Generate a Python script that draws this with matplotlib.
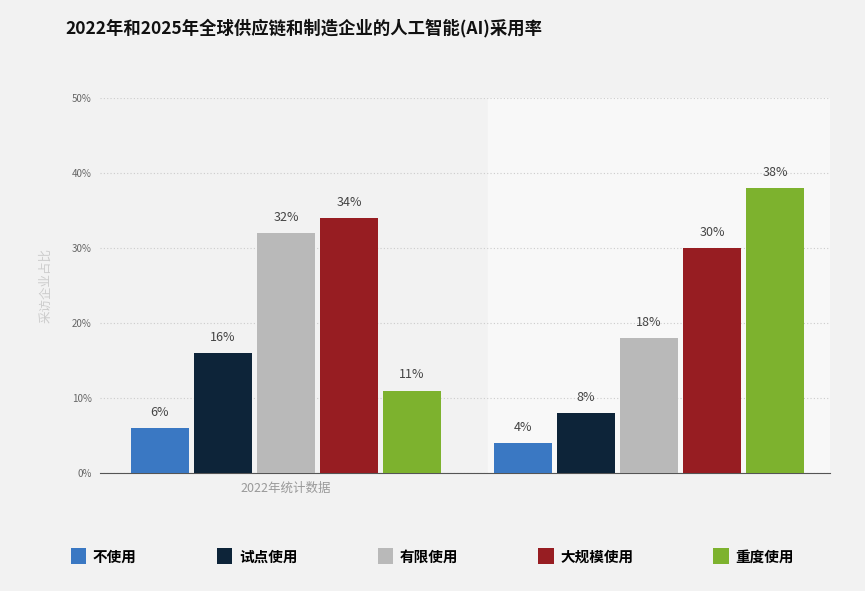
import matplotlib.pyplot as plt
import numpy as np

plt.rcParams['font.family'] = ['Noto Sans CJK SC']

groups = ['2022年统计数据', '']
series = ['不使用', '试点使用', '有限使用', '大规模使用', '重度使用']
values = [[6, 16, 32, 34, 11], [4, 8, 18, 30, 38]]
colors = ['#3a78c3', '#0d2439', '#b9b9b9', '#971d22', '#7db22e']
yticks = [0, 10, 20, 30, 40, 50]

fig = plt.figure(figsize=(8.65, 5.91), dpi=100, facecolor='#f2f2f2')
ax = fig.add_axes([100/865, 1-473/591, 730/865, 375/591])
ax.set_facecolor('#f2f2f2')
ax.axvspan(5.2, 10.7, color='#f8f8f8', zorder=0)

step = 5.76
for gi, vals in enumerate(values):
    for j, v in enumerate(vals):
        x = gi*step + j
        ax.bar(x, v, width=0.92, color=colors[j], zorder=3,
               label=series[j] if gi == 0 else None)
        ax.text(x, v + 1.2, f'{v}%', ha='center', va='bottom', fontsize=9, color='#444444')

ax.set_xlim(-0.95, 10.63)
ax.set_ylim(0, 50)
ax.set_yticks(yticks)
ax.set_yticklabels([f'{t}%' for t in yticks], fontsize=7, color='#666666')
ax.set_xticks([2, 2 + step])
ax.set_xticklabels(groups, fontsize=9, color='#999999')
ax.tick_params(length=0, pad=6)
ax.yaxis.grid(True, linestyle=(0, (1, 2)), color='#cccccc', linewidth=0.8, zorder=0)
for s in ['top', 'right', 'left']:
    ax.spines[s].set_visible(False)
ax.spines['bottom'].set_color('#555555')
ax.set_ylabel('采访企业占比', fontsize=9, color='#cccccc', labelpad=14)

fig.text(65/865, 1-28/591, '2022年和2025年全球供应链和制造企业的人工智能(AI)采用率',
         fontsize=12.5, fontweight='bold', va='center', color='#111111')

leg = fig.legend(loc='center', bbox_to_anchor=(0.5, 1-557/591), ncol=5, frameon=False,
                 fontsize=10.5, handlelength=1, handleheight=1, columnspacing=5.5,
                 handletextpad=0.5)
for h in leg.legend_handles:
    h.set_height(11); h.set_width(11)
for t in leg.get_texts():
    t.set_fontweight('bold')

fig.savefig('out.png', dpi=100, facecolor=fig.get_facecolor())
